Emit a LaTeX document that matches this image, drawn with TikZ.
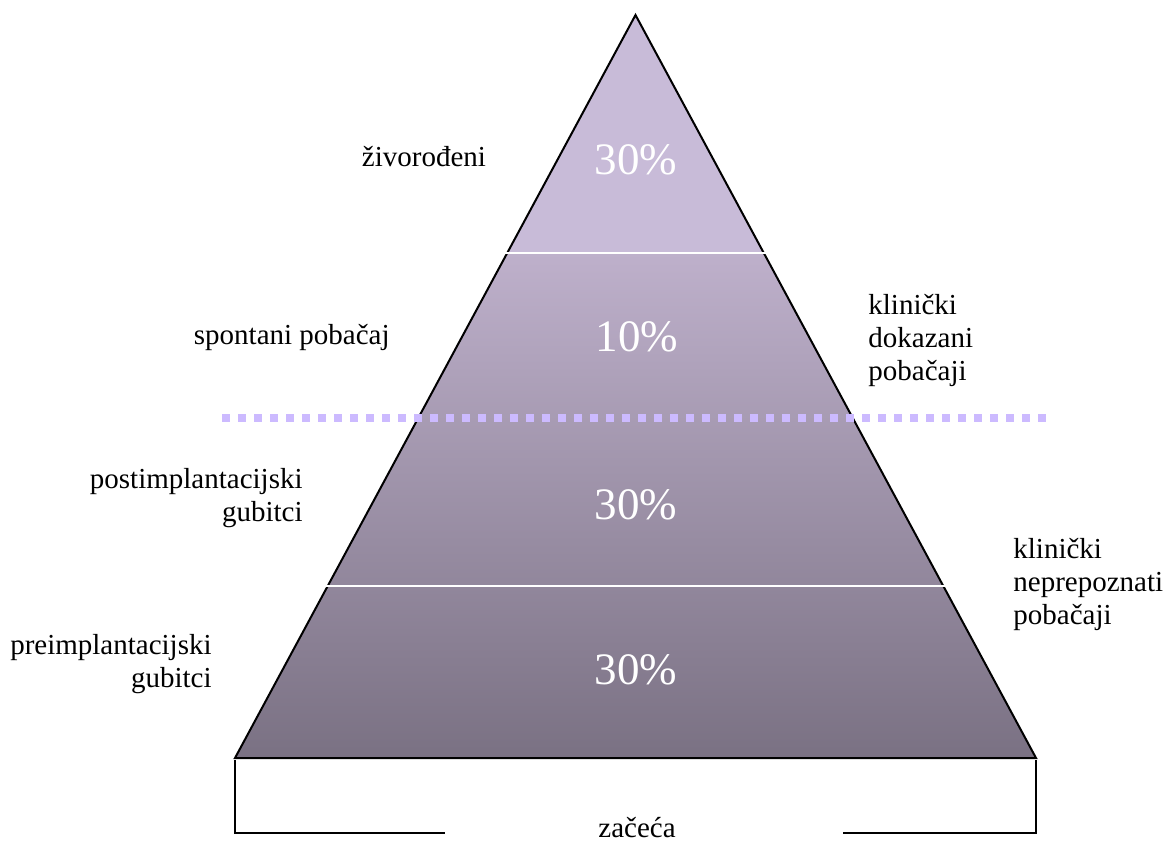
\documentclass[tikz,border=0pt]{standalone}
\usepackage{fontspec}
\setmainfont{Liberation Serif}
\definecolor{vrh}{RGB}{200,187,216}
\definecolor{sredina}{RGB}{190,176,203}
\definecolor{dno}{RGB}{122,113,131}
\definecolor{tocke}{RGB}{204,186,255}

\begin{document}
\begin{tikzpicture}[x=0.5pt,y=-0.5pt,
    oznaka/.style={font=\fontsize{14.5}{16.5}\selectfont, inner sep=0pt},
    postotak/.style={font=\fontsize{22.5}{27}\selectfont, text=white, inner sep=0pt},
    rub/.style={line width=1pt},
    granica/.style={white, line width=1.2pt}]

    \useasboundingbox (0,0) rectangle (1170,845);

    % slojevi piramide
    \fill [vrh] (635.5,15) -- (764,253) -- (507,253) -- cycle;
    \shade [top color=sredina, bottom color=dno] (507,253) -- (764,253) -- (1036,758) -- (235,758) -- cycle;
    \draw [rub, line join=miter] (635.5,15) -- (1036,758) -- (235,758) -- cycle;

    \draw [granica] (505,253) -- (766,253);
    \draw [granica] (326,586) -- (945,586);
    \draw [tocke, line width=4pt, dash pattern=on 4pt off 4pt] (222,418) -- (1048,418);

    % postoci
    \node [postotak] (p1) at (636,160) {30\%};
    \node [postotak] (p2) at (637,337) {10\%};
    \node [postotak] (p3) at (636,505) {30\%};
    \node [postotak] (p4) at (636,670) {30\%};

    % oznake lijevo
    \node [oznaka] (zivo) at (424,157) {živorođeni};
    \node [oznaka, anchor=east] (spont) at (390,337) {spontani pobačaj};
    \node [oznaka, anchor=east, align=right] (post) at (303,498) {postimplantacijski\\gubitci};
    \node [oznaka, anchor=east, align=right] (pre) at (212,664) {preimplantacijski\\gubitci};

    % oznake desno
    \node [oznaka, anchor=west, align=left] (dok) at (868,340) {klinički\\dokazani\\pobačaji};
    \node [oznaka, anchor=west, align=left] (nep) at (1013,584) {klinički\\neprepoznati\\pobačaji};

    % zagrada dolje
    \node [oznaka, anchor=south] (zac) at (637,838) {začeća};
    \draw [rub] (235,760) -- (235,833) -- (445,833);
    \draw [rub] (1036,760) -- (1036,833) -- (843,833);
\end{tikzpicture}
\end{document}
